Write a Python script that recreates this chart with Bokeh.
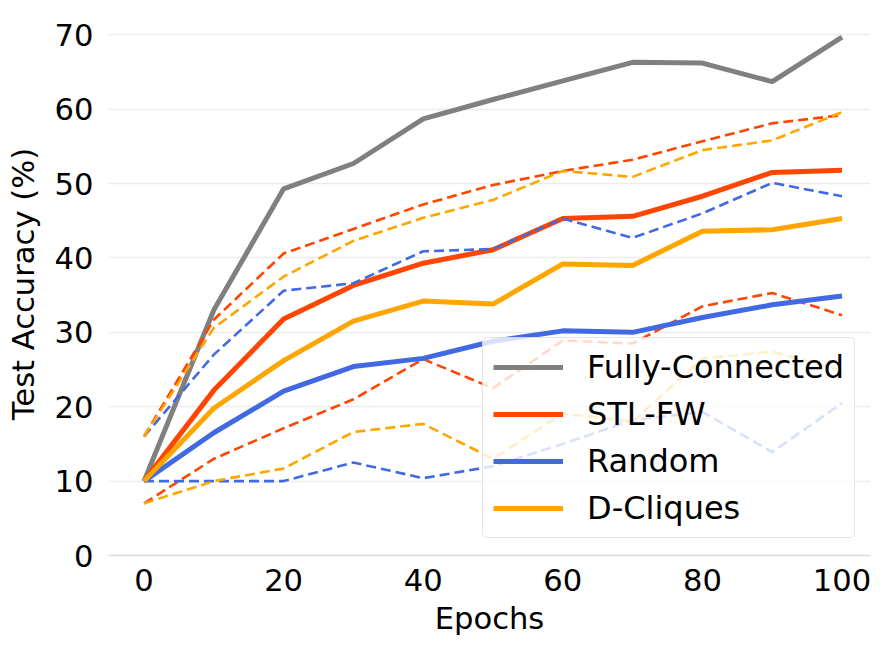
from bokeh.plotting import figure
from bokeh.models import Legend, LegendItem, Range1d, FixedTicker
from bokeh.embed import file_html
from bokeh.resources import INLINE

epochs = [0, 10, 20, 30, 40, 50, 60, 70, 80, 90, 100]

fc = [10.0, 33.0, 49.3, 52.7, 58.7, 61.3, 63.8, 66.3, 66.2, 63.7, 69.7]

stl = [10.0, 22.2, 31.8, 36.3, 39.3, 41.1, 45.3, 45.6, 48.3, 51.5, 51.8]
stl_hi = [16.0, 31.7, 40.6, 43.9, 47.2, 49.8, 51.7, 53.2, 55.7, 58.1, 59.2]
stl_lo = [7.0, 13.0, 17.1, 21.0, 26.4, 22.5, 28.9, 28.5, 33.5, 35.3, 32.3]

rnd = [10.0, 16.5, 22.1, 25.4, 26.5, 28.8, 30.2, 30.0, 32.0, 33.7, 34.9]
rnd_hi = [16.0, 27.0, 35.6, 36.6, 40.9, 41.2, 45.3, 42.7, 46.0, 50.1, 48.3]
rnd_lo = [10.0, 10.0, 10.0, 12.5, 10.4, 12.0, 15.0, 18.2, 19.3, 13.9, 20.5]

dc = [10.0, 19.8, 26.2, 31.5, 34.2, 33.8, 39.2, 39.0, 43.6, 43.8, 45.3]
dc_hi = [16.0, 30.6, 37.5, 42.3, 45.4, 47.8, 51.7, 50.9, 54.5, 55.8, 59.6]
dc_lo = [7.0, 10.0, 11.7, 16.6, 17.7, 13.0, 19.1, 18.0, 26.5, 27.4, 24.9]

names = ["Fully-Connected", "STL-FW", "Random", "D-Cliques"]
colors = ["#808080", "#FF4500", "#4169E1", "#FFA500"]
x_ticks = [0, 20, 40, 60, 80, 100]
y_ticks = [0, 10, 20, 30, 40, 50, 60, 70]
x_title = "Epochs"
y_title = "Test Accuracy (%)"

FONT = "DejaVu Sans"
FS = "30.6px"
LFS = "32px"

p = figure(width=872, height=639, output_backend="svg", toolbar_location=None,
           x_range=Range1d(-5.09, 104.08), y_range=Range1d(0, 73.0),
           min_border_left=108, min_border_right=2, min_border_top=12,
           min_border_bottom=84)
p.outline_line_color = None
p.background_fill_color = "white"
p.border_fill_color = "white"

p.xgrid.grid_line_color = None
p.ygrid.grid_line_color = "#ececec"
p.ygrid.grid_line_width = 1.3
p.ygrid.ticker = FixedTicker(ticks=y_ticks)

p.xaxis.ticker = FixedTicker(ticks=x_ticks)
p.yaxis.ticker = FixedTicker(ticks=y_ticks)
for ax in (p.xaxis[0], p.yaxis[0]):
    ax.major_tick_line_color = None
    ax.minor_tick_line_color = None
    ax.major_tick_out = 0
    ax.major_tick_in = 0
    ax.minor_tick_out = 0
    ax.major_label_text_font = FONT
    ax.major_label_text_font_size = FS
    ax.major_label_text_color = "black"
    ax.axis_label_text_font = FONT
    ax.axis_label_text_font_size = FS
    ax.axis_label_text_font_style = "normal"
    ax.axis_label_text_color = "black"
p.yaxis.axis_line_color = None
p.xaxis.axis_line_color = "#dcdcdc"
p.xaxis.axis_line_width = 1.3
p.xaxis.axis_label = x_title
p.yaxis.axis_label = y_title
p.xaxis.major_label_standoff = 13
p.yaxis.major_label_standoff = 15
p.xaxis.axis_label_standoff = 7
p.yaxis.axis_label_standoff = 11

SW = 5
DW = 2.6
DASH = "10 5"

items = []
r = p.line(epochs, fc, line_color=colors[0], line_width=SW)
items.append(LegendItem(label=names[0], renderers=[r]))

groups = [(stl, stl_hi, stl_lo), (rnd, rnd_hi, rnd_lo), (dc, dc_hi, dc_lo)]
for i, (mean, hi, lo) in enumerate(groups, start=1):
    r = p.line(epochs, mean, line_color=colors[i], line_width=SW)
    p.line(epochs, hi, line_color=colors[i], line_width=DW, line_dash=DASH)
    p.line(epochs, lo, line_color=colors[i], line_width=DW, line_dash=DASH)
    items.append(LegendItem(label=names[i], renderers=[r]))

legend = Legend(items=items, location=(374, 17), margin=0, padding=10,
                spacing=9, glyph_width=70, glyph_height=34, label_height=34,
                label_standoff=24, label_text_font=FONT, label_text_font_size=LFS,
                label_text_color="black", border_line_color="#cccccc",
                border_line_width=1.5, background_fill_color="white",
                background_fill_alpha=0.8)
try:
    legend.border_radius = 5
except Exception:
    pass
p.add_layout(legend)

open("out.html", "w").write(file_html(p, INLINE))
